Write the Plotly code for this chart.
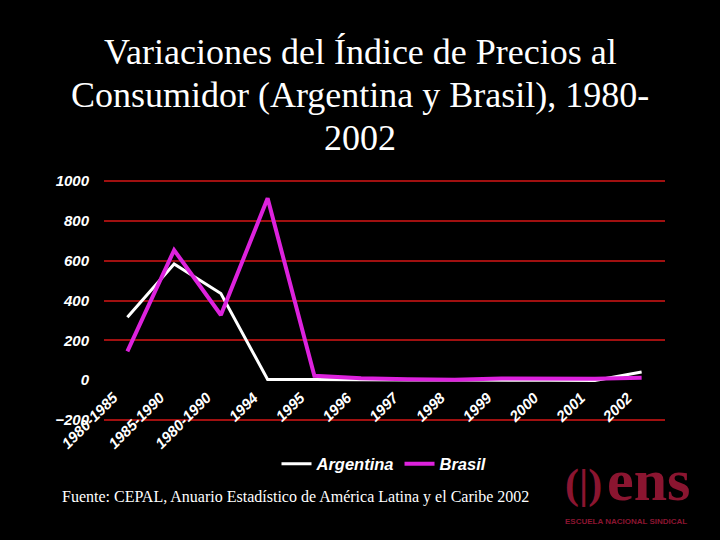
import plotly.graph_objects as go

# categories and values (IPC annual variation, %)
periodos = ["1980-1985", "1985-1990", "1980-1990", "1994", "1995", "1996",
            "1997", "1998", "1999", "2000", "2001", "2002"]
argentina = [316, 583, 435, 4, 3.4, 0.2, 0.5, 0.9, -1.2, -0.9, -1.1, 41]
brasil = [145, 653, 327, 913, 22, 9.6, 5.2, 1.7, 8.9, 6.0, 7.7, 12.5]
y_ticks = [-200, 0, 200, 400, 600, 800, 1000]
grid_ticks = [-200, 200, 400, 600, 800, 1000]
titulo = ["Variaciones del Índice de Precios al",
          "Consumidor (Argentina y Brasil), 1980-",
          "2002"]

W, H = 720, 540
L, R, T, B = 104, 55, 179, 118
ph = H - T - B
pw = W - L - R
y_rng = [-210, 1010]


def py(px):
    # pixel row -> paper y
    return (H - B - px) / ph


def pxx(px):
    return (px - L) / pw


tick_font = dict(family="Liberation Sans", size=15, color="white", weight="bold", style="italic")
logo_col = "#8b1530"

fig = go.Figure()
fig.add_trace(go.Scatter(x=periodos, y=argentina, name="Argentina", mode="lines",
                         line=dict(color="white", width=3)))
fig.add_trace(go.Scatter(x=periodos, y=brasil, name="Brasil", mode="lines",
                         line=dict(color="#dd22dd", width=4)))

fig.update_layout(
    template="none",
    width=W, height=H,
    margin=dict(l=L, r=R, t=T, b=B),
    paper_bgcolor="black", plot_bgcolor="black",
    showlegend=True,
    legend=dict(orientation="h", x=pxx(384), xanchor="center", y=py(464), yanchor="middle",
                font=dict(family="Liberation Sans", size=16.5, color="white", weight="bold", style="italic"),
                bgcolor="rgba(0,0,0,0)"),
    xaxis=dict(type="category", range=[-0.5, 11.5], anchor="free",
               position=(0 - y_rng[0]) / (y_rng[1] - y_rng[0]),
               tickangle=-45, tickfont=dict(tick_font, size=15), showgrid=False, showline=False,
               zeroline=False, ticks="", ticklabelshift=-14, ticklabelstandoff=5),
    yaxis=dict(range=y_rng, tickvals=y_ticks, tickfont=tick_font, showgrid=False,
               zeroline=False, showline=False, ticks="", ticklabelstandoff=14, domain=[0, 1]),
    # grid-only axis (no line at 0 in the original)
    yaxis2=dict(overlaying="y", range=y_rng, tickvals=grid_ticks, showticklabels=False,
                showgrid=True, gridcolor="#a01010", gridwidth=1.5, zeroline=False, ticks="",
                side="left", layer="below traces"),
)
fig.add_trace(go.Scatter(x=[periodos[0]], y=[None], yaxis="y2", showlegend=False, hoverinfo="skip"))

# título, una anotación por línea
for i, linea in enumerate(titulo):
    fig.add_annotation(text=linea, xref="paper", yref="paper", x=pxx(360), y=py(52 + 43 * i),
                       xanchor="center", yanchor="middle", showarrow=False,
                       font=dict(family="Liberation Serif", size=36, color="white"))

# fuente
fig.add_annotation(text="Fuente: CEPAL, Anuario Estadístico de América Latina y el Caribe 2002",
                   xref="paper", yref="paper", x=pxx(60), y=py(497), xanchor="left", yanchor="middle",
                   showarrow=False, font=dict(family="Liberation Serif", size=16, color="white"))

# logo ENS (aproximado con texto)
fig.add_annotation(text="<b>ens</b>", xref="paper", yref="paper", x=pxx(648), y=py(480),
                   xanchor="center", yanchor="middle", showarrow=False,
                   font=dict(family="Liberation Serif", size=60, color=logo_col))
fig.add_annotation(text="<b>(|)</b>", xref="paper", yref="paper", x=pxx(583), y=py(484),
                   xanchor="center", yanchor="middle", showarrow=False,
                   font=dict(family="Liberation Serif", size=42, color=logo_col))
fig.add_annotation(text="<b>ESCUELA NACIONAL SINDICAL</b>", xref="paper", yref="paper",
                   x=pxx(626), y=py(521), xanchor="center", yanchor="middle", showarrow=False,
                   font=dict(family="Liberation Sans", size=8, color=logo_col))

fig.write_html("out.html", config={"displayModeBar": False},
               post_script="document.body.style.margin='0';")
